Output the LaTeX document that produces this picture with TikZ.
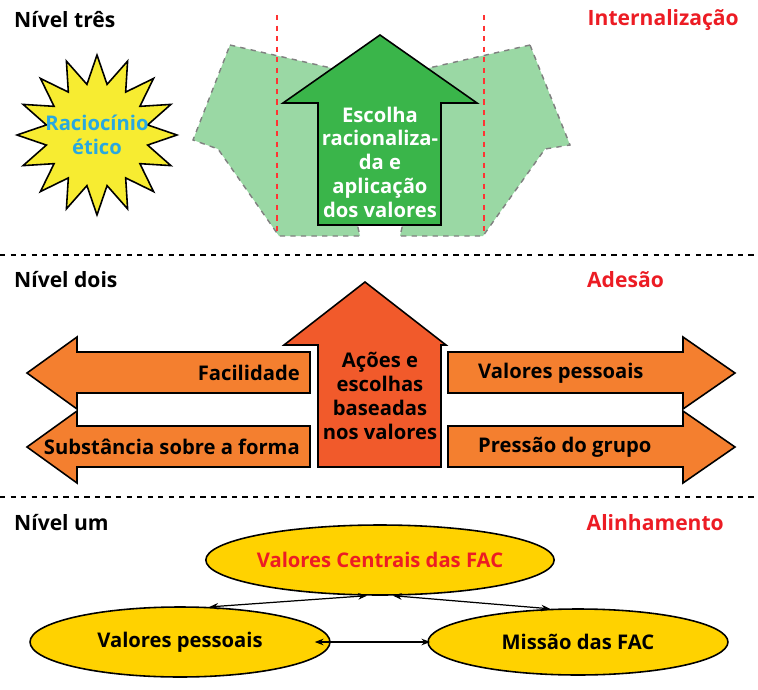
\documentclass[tikz,border=0pt]{standalone}
\usepackage{fontspec}
\setmainfont{Open Sans}
\usetikzlibrary{shapes.geometric,arrows.meta,positioning}
\definecolor{lgreen}{HTML}{9AD8A4}
\definecolor{dgreen}{HTML}{3AB54A}
\definecolor{oran}{HTML}{F47F2F}
\definecolor{doran}{HTML}{F15A2B}
\definecolor{gold}{HTML}{FFD200}
\definecolor{sunny}{HTML}{F7EC31}
\definecolor{sky}{HTML}{29A8E0}
\definecolor{tred}{HTML}{EC1C24}

\begin{document}
\begin{tikzpicture}[x=0.02cm,y=-0.02cm]
	\tikzset{
		lvl/.style={font=\bfseries\fontsize{12}{14}\selectfont,anchor=west},
		tag/.style={font=\bfseries\fontsize{12}{14}\selectfont,text=tred,anchor=east},
		txt/.style={font=\bfseries\fontsize{11.5}{13.5}\selectfont,align=center},
		box/.style={draw=black,line width=0.9pt},
		ghost/.style={fill=lgreen,draw=gray,dashed,line width=0.8pt},
		oval/.style={ellipse,draw,fill=gold,line width=0.9pt,inner sep=0pt,
			minimum width=6cm,minimum height=1.4cm,txt},
		link/.style={<->,>={Stealth[length=5pt]},line width=0.7pt}
	}
	\useasboundingbox (0,0) rectangle (758,690);

	%% Level three
	\node[lvl] (l3) at (8,20) {Nível três};
	\node[tag] (t3) at (745,20) {Internalização};
	\draw[ghost] (230,45) -- (340,70) -- (330,110) -- (360,236) -- (279,236) -- (218,149) -- (193,140) -- cycle;
	\draw[ghost] (530,45) -- (420,70) -- (430,110) -- (400,236) -- (483,236) -- (545,149) -- (570,145) -- cycle;
	\draw[red!80,dashed,line width=0.7pt] (277,15) -- (277,236) (484,15) -- (484,236);
	\draw[box,fill=dgreen] (380,35) -- (477,103) -- (441,103) -- (441,225) -- (318,225) -- (318,103) -- (283,103) -- cycle;
	\node[txt,text=white] (escolha) at (380,162) {Escolha\\racionaliza-\\da e\\aplicação\\dos valores};
	\node[star,star points=16,star point ratio=1.55,draw,fill=sunny,line width=0.9pt,
		minimum width=3.2cm,minimum height=2.9cm,inner sep=0pt] (burst) at (97,135) {};
	\node[txt,text=sky] (racio) at (burst) {Raciocínio\\ético};
	\draw[dashed,line width=0.6pt] (0,255) -- (758,255);

	%% Level two
	\node[lvl] (l2) at (8,280) {Nível dois};
	\node[tag] (t2) at (670,280) {Adesão};
	\foreach \y in {373,447}{
		\draw[box,fill=oran] (27,\y) -- (77,\y-36) -- (77,\y-21) -- (310,\y-21) -- (310,\y+20) -- (77,\y+20) -- (77,\y+36) -- cycle;
		\draw[box,fill=oran] (735,\y) -- (683,\y-36) -- (683,\y-21) -- (448,\y-21) -- (448,\y+20) -- (683,\y+20) -- (683,\y+36) -- cycle;
	}
	\node[txt,anchor=east] (facil) at (306,373) {Facilidade};
	\node[txt,anchor=east] (subst) at (306,447) {Substância sobre a forma};
	\node[txt,anchor=west] (valp) at (472,373) {Valores pessoais};
	\node[txt,anchor=west] (press) at (472,447) {Pressão do grupo};
	\draw[box,fill=doran] (365,282) -- (446,345) -- (441,345) -- (441,467) -- (318,467) -- (318,345) -- (284,345) -- cycle;
	\node[txt] (acoes) at (380,396) {Ações e\\escolhas\\baseadas\\nos valores};
	\draw[dashed,line width=0.6pt] (0,497) -- (758,497);

	%% Level one
	\node[lvl] (l1) at (8,523) {Nível um};
	\node[tag] (t1) at (730,523) {Alinhamento};
	\node[oval,text=tred] (core) at (380,560) {Valores Centrais das FAC};
	\node[oval] (pess) at (180,642) {Valores pessoais};
	\node[oval,minimum height=1.32cm] (miss) at (578,642) {Missão das FAC};
	\draw[link] (core.250) -- (pess.50);
	\draw[link] (core.290) -- (miss.130);
	\path (pess.east) ++(-16,0) coordinate (pe) (miss.west) ++(3,0) coordinate (mw);
	\draw[link] (pe) -- (mw);
\end{tikzpicture}
\end{document}
